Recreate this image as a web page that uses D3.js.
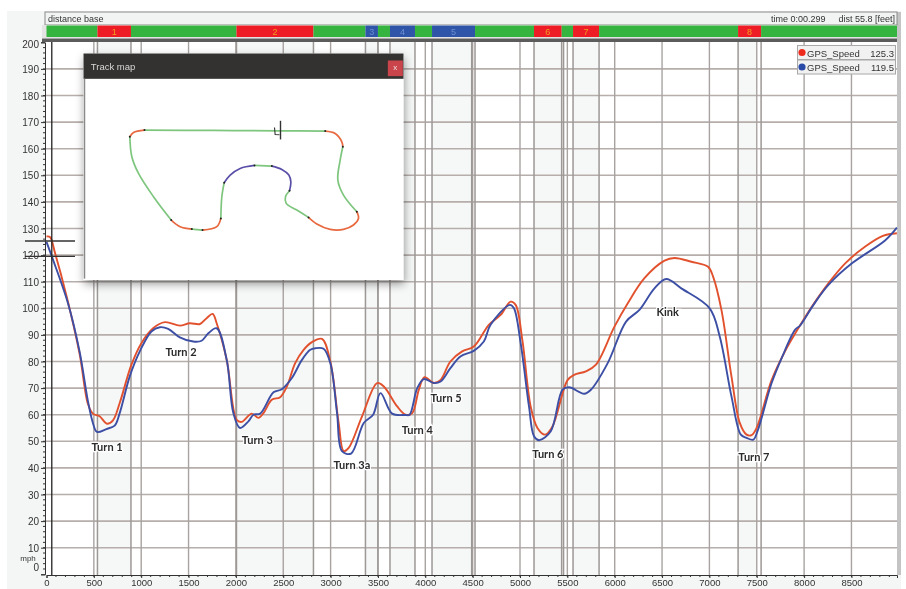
<!DOCTYPE html>
<html>
<head>
<meta charset="utf-8">
<script src="https://d3js.org/d3.v7.min.js"></script>
<style>
  html, body { margin: 0; padding: 0; background: #fff; }
  svg { display: block; filter: blur(0.6px); }
  text { font-family: "Liberation Sans", Arial, sans-serif; fill: #333; }
  .turn { font-family: Lato, sans-serif; font-weight: bold; font-size: 11px; fill: #2b2b2b;
          paint-order: stroke; stroke: #fff; stroke-width: 2.5px; text-anchor: middle; }
</style>
</head>
<body>
<div id="my_dataviz"></div>
<script>
// distance (feet) and speed (mph)
var redDist = [0,37,90,216,349,438,490,561,639,702,773,897,1002,1126,1250,1408,1514,1620,1691,1754,1797,1903,2008,2061,2167,2238,2291,2379,2467,2538,2626,2715,2803,2909,2997,3085,3138,3191,3332,3491,3562,3703,3791,3862,3932,3992,4091,4162,4265,4389,4512,4671,4795,4901,4954,5025,5113,5184,5265,5343,5502,5572,5696,5802,5996,6138,6314,6526,6632,6809,6986,7039,7127,7233,7321,7392,7445,7498,7657,7798,7939,8081,8257,8434,8646,8832,8980];
var redSpeed = [127,126.8,120.8,104,83,64,60.4,59.4,56.6,57.9,64.4,78.8,86.9,92.5,94.8,93.5,94.4,94.1,96.3,97.9,94.4,80.6,58.1,57.3,60.4,58.8,60.6,65.6,66.6,70.6,79.4,84.4,87.3,88.5,80,56.9,46.3,47.5,59.4,71.9,70.6,63.1,60,60.6,69.4,74.1,71.9,73.1,80,83.8,85.6,93.8,97.5,102.5,101.3,88,63,55,52.5,55.6,73,75,76.3,78.8,93,101.9,111.3,117.9,118.9,117.5,115.6,111.9,99.4,74.4,56.9,52.5,52.3,55,73,83.8,92.5,100.6,109.4,116.9,123.2,127.2,128.2];
var blueDist = [0,56,226,349,438,490,533,632,720,773,879,985,1108,1197,1285,1408,1550,1638,1709,1797,1903,1973,2044,2132,2185,2256,2397,2485,2591,2697,2785,2838,2926,2997,3068,3120,3216,3350,3449,3527,3650,3791,3834,3915,3985,4091,4162,4265,4371,4512,4618,4689,4894,4936,5007,5095,5148,5201,5325,5449,5519,5678,5749,5926,6120,6261,6420,6544,6703,7003,7109,7233,7332,7392,7463,7508,7657,7763,7904,7957,8099,8257,8505,8858,8980];
var blueSpeed = [125,119.5,102,83.8,65,56.9,53.5,54.6,55.9,60.6,74.4,83.8,91.3,92.9,92.3,89.1,87.5,87.8,90.6,92.5,80.6,60.6,55,57.5,60,60.4,68.4,69.6,73.8,80.6,84.4,85,84.8,79.4,60.6,46.3,45.4,56.9,60,68.1,60.4,59.9,60,70,73.4,71.9,72.5,77.5,81.9,84,87.5,93.8,101.3,100,86.9,63.1,51.9,50.4,53.8,69.4,70.3,67.9,69.4,79.4,95,99.4,107.5,111,107.5,100,89.4,66.9,52.5,51.3,50.6,53.8,71.9,81.3,91.9,93.5,101.3,108.8,116.9,125.6,130.3];

// segment strip along the top
var zoneStart = [0,538,892,2006,2819,3368,3500,3627,3891,4071,4525,5148,5440,5560,5835,7303,7546];
var zoneEnd = [538,892,2006,2819,3368,3500,3627,3891,4071,4525,5148,5440,5560,5835,7303,7546,8981];
var zoneType = ["g","r","g","r","g","b","g","b","g","b","g","r","g","r","g","r","g"];
var zoneLabel = ["","1","","2","","3","","4","","5","","6","","7","","8",""];
var shadeEnd = [892,2819,3500,3891,4490,5440,5835,7500];
var shadeStart = [538,2006,3368,3627,4071,5148,5560,7303];
var extraLines = [4490,5460];

var xTicks = [0,500,1000,1500,2000,2500,3000,3500,4000,4500,5000,5500,6000,6500,7000,7500,8000,8500];
var yTicks = [0,10,20,30,40,50,60,70,80,90,100,110,120,130,140,150,160,170,180,190,200];
var cursorDist = 55.8;
var cursorRed = 125.3;
var cursorBlue = 119.5;

var turnNames = ["Turn 1","Turn 2","Turn 3","Turn 3a","Turn 4","Turn 5","Turn 6","Turn 7","Kink"];
var turnDist = [640,1420,2225,3225,3915,4220,5295,7470,6560];
var turnSpeed = [46.2,82,48.9,39.5,52.9,64.7,43.9,42.5,97];

// track map pieces, in map units
var trackKinds = ["g","r","g","r","g","b","g","b","g","r","g","r","g","r"];
var trackPieces = [
  [[433,390],[640,391],[838,392],[975,393]],
  [[975,393],[1005,400],[1025,425],[1028,440]],
  [[1028,440],[1020,480],[1013,540],[1030,585],[1070,635]],
  [[1070,635],[1075,655],[1060,675],[1030,688],[990,688],[950,672],[925,652]],
  [[925,652],[890,630],[858,610],[856,590],[868,572]],
  [[868,572],[872,545],[866,525],[845,508],[815,498]],
  [[815,498],[763,496]],
  [[763,496],[720,505],[690,525],[672,548]],
  [[672,548],[665,590],[662,655]],
  [[662,655],[650,680],[607,690]],
  [[607,690],[575,687]],
  [[575,687],[540,680],[513,660]],
  [[513,660],[460,590],[415,520],[395,470],[389,410]],
  [[389,410],[400,397],[433,390]]
];
var startMark = [[823,382],[825,403],[838,404]];
var startPost = [[841,362],[841,418]];

var width = 906, height = 589;
var svg = d3.select("#my_dataviz").append("svg")
  .attr("width", width).attr("height", height);

var defs = svg.append("defs");
defs.append("filter").attr("id", "shadow")
  .attr("x", "-10%").attr("y", "-10%").attr("width", "120%").attr("height", "120%")
  .append("feDropShadow").attr("dx", 1).attr("dy", 4).attr("stdDeviation", 5)
  .attr("flood-color", "#000").attr("flood-opacity", 0.4);

var x = d3.scaleLinear().domain([0, 8981]).range([46.5, 897]);
var y = d3.scaleLinear().domain([0, 200]).range([574.3, 42.3]);

// window background
svg.append("rect").attr("x", 7).attr("y", 11).attr("width", 894).attr("height", 578).attr("fill", "#f4f5f5");
svg.append("rect").attr("x", 46).attr("y", 42).attr("width", 851).attr("height", 533).attr("fill", "#fff");
svg.append("rect").attr("x", 897).attr("y", 12).attr("width", 4).attr("height", 563).attr("fill", "#c4c4c4");

// shaded corners
svg.selectAll(".shade").data(shadeStart).enter().append("rect")
  .attr("x", function(d) { return x(d); })
  .attr("y", 42)
  .attr("width", function(d, i) { return x(shadeEnd[i]) - x(d); })
  .attr("height", 533)
  .attr("fill", "#f6f7f7");

// grid
svg.append("g").selectAll("line").data(yTicks.slice(1, -1)).enter().append("line")
  .attr("x1", 46).attr("x2", 897)
  .attr("y1", function(d) { return y(d); }).attr("y2", function(d) { return y(d); })
  .attr("stroke", "#b5aeab").attr("stroke-width", 1.6);
svg.append("g").selectAll("line").data(xTicks.slice(1)).enter().append("line")
  .attr("x1", function(d) { return x(d); }).attr("x2", function(d) { return x(d); })
  .attr("y1", 42).attr("y2", 575)
  .attr("stroke", "#a8a3a1").attr("stroke-width", 1.4);
svg.append("g").selectAll("line").data(zoneStart.slice(1).concat(extraLines)).enter().append("line")
  .attr("x1", function(d) { return x(d); }).attr("x2", function(d) { return x(d); })
  .attr("y1", 42).attr("y2", 575)
  .attr("stroke", "#9c9896").attr("stroke-width", 1.5);

// top strip
svg.append("rect").attr("x", 45).attr("y", 12).attr("width", 852).attr("height", 13)
  .attr("fill", "#f2f3f3").attr("stroke", "#8a8a8a").attr("stroke-width", 1);
svg.append("text").attr("x", 48).attr("y", 22).style("font-size", "9px").text("distance base");
svg.append("text").attr("x", 771).attr("y", 22).style("font-size", "9px").text("time 0:00.299");
svg.append("text").attr("x", 895).attr("y", 22).attr("text-anchor", "end").style("font-size", "9px").text("dist 55.8 [feet]");

var zoneColor = { g: "#35b43f", r: "#ee1c25", b: "#2e55a8" };
svg.append("rect").attr("x", 42).attr("y", 25).attr("width", 855).attr("height", 13).attr("fill", "#e4e4e4");
svg.selectAll(".zone").data(zoneStart).enter().append("rect")
  .attr("x", function(d) { return x(d); })
  .attr("y", 25.5)
  .attr("width", function(d, i) { return x(zoneEnd[i]) - x(d); })
  .attr("height", 11.5)
  .attr("fill", function(d, i) { return zoneColor[zoneType[i]]; });
svg.selectAll(".zoneText").data(zoneStart).enter().append("text")
  .attr("x", function(d, i) { return (x(d) + x(zoneEnd[i])) / 2; })
  .attr("y", 34.5)
  .attr("text-anchor", "middle")
  .style("font-size", "9px")
  .style("fill", function(d, i) { return zoneType[i] == "b" ? "#6f8fd0" : "#f0a020"; })
  .text(function(d, i) { return zoneLabel[i]; });
svg.append("rect").attr("x", 42).attr("y", 38.5).attr("width", 855).attr("height", 3.5).attr("fill", "#5c5c5c");

// curves
var line = d3.line().curve(d3.curveCatmullRom.alpha(0.5))
  .x(function(d) { return x(d[0]); })
  .y(function(d) { return y(d[1]); });
svg.append("path").attr("d", line(d3.zip(redDist, redSpeed)))
  .attr("fill", "none").attr("stroke", "#e2512e").attr("stroke-width", 1.9);
svg.append("path").attr("d", line(d3.zip(blueDist, blueSpeed)))
  .attr("fill", "none").attr("stroke", "#3c4fa5").attr("stroke-width", 1.9);

// cursor
svg.append("line").attr("x1", x(cursorDist)).attr("x2", x(cursorDist)).attr("y1", 42).attr("y2", 575)
  .attr("stroke", "#222").attr("stroke-width", 1.3);
[cursorRed, cursorBlue].forEach(function(v) {
  svg.append("line").attr("x1", 25).attr("x2", 75).attr("y1", y(v)).attr("y2", y(v))
    .attr("stroke", "#333").attr("stroke-width", 1.3);
});

// axes
var axisLeft = svg.append("g").attr("transform", "translate(45,0)")
  .call(d3.axisLeft(y).tickValues(yTicks).tickSize(4).tickPadding(2));
axisLeft.select(".domain").attr("stroke", "#333");
axisLeft.selectAll(".tick text").style("font-size", "10px").style("fill", "#333")
  .attr("dy", function(d) { return d == 200 ? "5px" : d == 0 ? "-3.5px" : "3.5px"; });
axisLeft.selectAll(".tick line").attr("stroke", "#333");
axisLeft.selectAll(".minor").data(d3.range(2, 200, 2)).enter().append("line")
  .attr("class", "minor").attr("x1", -2).attr("x2", 0)
  .attr("y1", function(d) { return y(d); }).attr("y2", function(d) { return y(d); })
  .attr("stroke", "#333");

var axisBottom = svg.append("g").attr("transform", "translate(0,575)")
  .call(d3.axisBottom(x).tickValues(xTicks).tickSize(3).tickPadding(1).tickFormat(d3.format("d")));
axisBottom.select(".domain").attr("stroke", "#333");
axisBottom.selectAll(".tick text").style("font-size", "9.5px").style("fill", "#333");
axisBottom.selectAll(".tick line").attr("stroke", "#333");
axisBottom.selectAll(".minor").data(d3.range(100, 8981, 100)).enter().append("line")
  .attr("class", "minor").attr("y1", 0).attr("y2", 2)
  .attr("x1", function(d) { return x(d); }).attr("x2", function(d) { return x(d); })
  .attr("stroke", "#333");

svg.append("text").attr("x", 28).attr("y", 561).attr("text-anchor", "middle").style("font-size", "8px").text("mph");

// turn labels
svg.selectAll(".turn").data(turnNames).enter().append("text")
  .attr("class", "turn")
  .attr("x", function(d, i) { return x(turnDist[i]); })
  .attr("y", function(d, i) { return y(turnSpeed[i]); })
  .text(function(d) { return d; });

// legend
var legendNames = ["GPS_Speed", "GPS_Speed"];
var legendValues = [cursorRed, cursorBlue];
var legendColors = ["#ee2a1c", "#2a4aa8"];
var legend = svg.append("g");
legendNames.forEach(function(n, i) {
  var ly = 45.5 + i * 14.5;
  legend.append("rect").attr("x", 797.5).attr("y", ly).attr("width", 98).attr("height", 14)
    .attr("fill", "#f1f1f1").attr("stroke", "#a8a8a8");
  legend.append("circle").attr("cx", 802).attr("cy", ly + 7).attr("r", 3.6).attr("fill", legendColors[i]);
  legend.append("text").attr("x", 807).attr("y", ly + 11).style("font-size", "9.5px").text(n);
  legend.append("text").attr("x", 894).attr("y", ly + 11).attr("text-anchor", "end").style("font-size", "9.5px").text(legendValues[i]);
});

// track map window
var mx = d3.scaleLinear().domain([250, 1210]).range([83.5, 403.5]);
var my = d3.scaleLinear().domain([160, 840]).range([53.5, 280]);
var win = svg.append("g");
win.append("rect").attr("x", mx(250)).attr("y", my(160)).attr("width", mx(1210) - mx(250)).attr("height", my(840) - my(160))
  .attr("fill", "#fff").attr("filter", "url(#shadow)");
win.append("rect").attr("x", mx(250)).attr("y", my(160)).attr("width", mx(1210) - mx(250)).attr("height", my(236) - my(160))
  .attr("fill", "#333230");
win.append("line").attr("x1", mx(253)).attr("x2", mx(253)).attr("y1", my(236)).attr("y2", my(836))
  .attr("stroke", "#8a8a8a").attr("stroke-width", 1.5);
win.append("text").attr("x", mx(272)).attr("y", my(209)).style("font-size", "9.5px").style("fill", "#d8d8d8").text("Track map");
win.append("rect").attr("x", mx(1163)).attr("y", my(181)).attr("width", mx(1208) - mx(1163)).attr("height", my(228) - my(181))
  .attr("fill", "#c9444b");
win.append("text").attr("x", mx(1185)).attr("y", my(210)).attr("text-anchor", "middle").style("font-size", "8px").style("fill", "#f0e0e0").text("x");

var trackColor = { g: "#7ec67e", r: "#e8683f", b: "#5a4fa8" };
var trackLine = d3.line().curve(d3.curveCatmullRom)
  .x(function(d) { return mx(d[0]); })
  .y(function(d) { return my(d[1]); });
win.selectAll(".track").data(trackPieces).enter().append("path")
  .attr("d", trackLine)
  .attr("fill", "none")
  .attr("stroke", function(d, i) { return trackColor[trackKinds[i]]; })
  .attr("stroke-width", 1.7);
win.selectAll(".knot").data(trackPieces).enter().append("circle")
  .attr("cx", function(d) { return mx(d[0][0]); })
  .attr("cy", function(d) { return my(d[0][1]); })
  .attr("r", 1).attr("fill", "#222");
win.append("path").attr("d", d3.line().x(function(d) { return mx(d[0]); }).y(function(d) { return my(d[1]); })(startMark))
  .attr("fill", "none").attr("stroke", "#333").attr("stroke-width", 1.1);
win.append("path").attr("d", d3.line().x(function(d) { return mx(d[0]); }).y(function(d) { return my(d[1]); })(startPost))
  .attr("fill", "none").attr("stroke", "#333").attr("stroke-width", 1.4);
</script>
</body>
</html>
